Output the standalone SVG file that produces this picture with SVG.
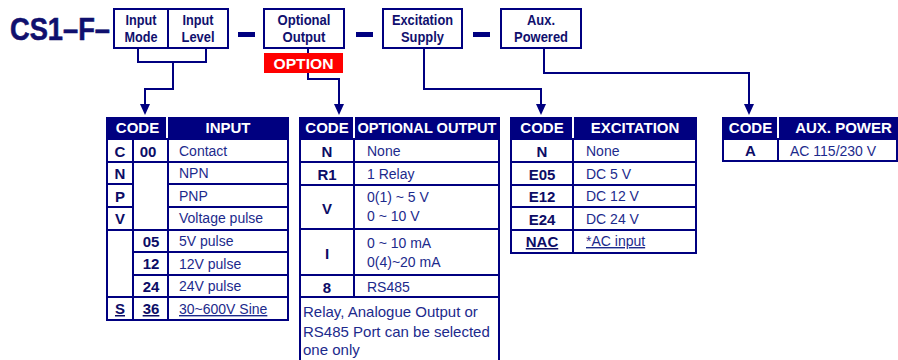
<svg xmlns="http://www.w3.org/2000/svg" width="898" height="360" viewBox="0 0 898 360">
<style>
.bx{fill:#fff;stroke:#000080;stroke-width:2}
.lbl{font-family:"Liberation Sans",Arial,sans-serif;font-weight:bold;font-size:14px;fill:#10106e;text-anchor:middle}
.hd{fill:#000080}
.hdt{font-family:"Liberation Sans",Arial,sans-serif;font-weight:bold;font-size:15px;fill:#fff;text-anchor:middle}
.hdv{stroke:#fff;stroke-width:2}
.tl{fill:none;stroke:#000080;stroke-width:2}
.cd{font-family:"Liberation Sans",Arial,sans-serif;font-weight:bold;font-size:15px;fill:#0c0c66;text-anchor:middle}
.ds{font-family:"Liberation Sans",Arial,sans-serif;font-size:14px;fill:#1c2a8c}
.nt{font-family:"Liberation Sans",Arial,sans-serif;font-size:15px;fill:#1c2a8c}
.u{text-decoration:underline}
.cn{fill:none;stroke:#000080;stroke-width:2}
.dash{fill:#000080}
</style>

<text id="title" x="10" y="40" font-family="'Liberation Sans',Arial,sans-serif" font-weight="bold" font-size="32" fill="#10106e" stroke="#10106e" stroke-width="0.6" textLength="100" lengthAdjust="spacingAndGlyphs">CS1–F–</text>

<g id="connectors">
<path class="cn" d="M138,48 V62 H206 V48"/>
<path class="cn" d="M173,62 V89 H145 V105"/>
<path class="cn" d="M308,48 V79 H339 V105"/>
<path class="cn" d="M424,48 V89 H541 V105"/>
<path class="cn" d="M544,48 V73 H749 V105"/>
<path d="M140,104 L150,104 L145,115 Z" fill="#000080"/>
<path d="M334,104 L344,104 L339,115 Z" fill="#000080"/>
<path d="M536,104 L546,104 L541,115 Z" fill="#000080"/>
<path d="M744,104 L754,104 L749,115 Z" fill="#000080"/>
</g>

<g id="dashes">
<rect class="dash" x="238" y="32" width="17" height="5"/>
<rect class="dash" x="356" y="32" width="17" height="5"/>
<rect class="dash" x="473" y="32" width="17" height="5"/>
</g>

<g id="box-input-mode">
<rect class="bx" x="114" y="9" width="54" height="39"/>
<text class="lbl" x="141" y="25" textLength="31" lengthAdjust="spacingAndGlyphs">Input</text>
<text class="lbl" x="141" y="42" textLength="33" lengthAdjust="spacingAndGlyphs">Mode</text>
</g>
<g id="box-input-level">
<rect class="bx" x="168" y="9" width="60" height="39"/>
<text class="lbl" x="198" y="25" textLength="31" lengthAdjust="spacingAndGlyphs">Input</text>
<text class="lbl" x="198" y="42" textLength="33" lengthAdjust="spacingAndGlyphs">Level</text>
</g>
<g id="box-optional-output">
<rect class="bx" x="264" y="9" width="80" height="39"/>
<text class="lbl" x="304" y="25" textLength="53" lengthAdjust="spacingAndGlyphs">Optional</text>
<text class="lbl" x="304" y="42" textLength="43" lengthAdjust="spacingAndGlyphs">Output</text>
</g>
<g id="option-tag">
<rect x="264" y="53" width="79" height="20" fill="#ff0000"/>
<text x="303.5" y="69" font-family="'Liberation Sans',Arial,sans-serif" font-weight="bold" font-size="15" fill="#fff" text-anchor="middle" textLength="60" lengthAdjust="spacingAndGlyphs">OPTION</text>
</g>
<g id="box-excitation">
<rect class="bx" x="383" y="9" width="79" height="39"/>
<text class="lbl" x="422.5" y="25" textLength="61" lengthAdjust="spacingAndGlyphs">Excitation</text>
<text class="lbl" x="422.5" y="42" textLength="43" lengthAdjust="spacingAndGlyphs">Supply</text>
</g>
<g id="box-aux">
<rect class="bx" x="501" y="9" width="80" height="39"/>
<text class="lbl" x="541" y="25" textLength="28" lengthAdjust="spacingAndGlyphs">Aux.</text>
<text class="lbl" x="541" y="42" textLength="54" lengthAdjust="spacingAndGlyphs">Powered</text>
</g>

<g id="table-input">
<rect class="hd" x="106" y="117" width="183" height="22"/>
<line class="hdv" x1="167" y1="117" x2="167" y2="139"/>
<text class="hdt" x="137.5" y="133">CODE</text>
<text class="hdt" x="228" y="133">INPUT</text>
<rect class="tl" x="107" y="139" width="181" height="181"/>
<line class="tl" x1="133" y1="139" x2="133" y2="320"/>
<line class="tl" x1="168" y1="139" x2="168" y2="320"/>
<line class="tl" x1="107" y1="162" x2="288" y2="162"/>
<line class="tl" x1="107" y1="184" x2="133" y2="184"/>
<line class="tl" x1="168" y1="184" x2="288" y2="184"/>
<line class="tl" x1="107" y1="207" x2="133" y2="207"/>
<line class="tl" x1="168" y1="207" x2="288" y2="207"/>
<line class="tl" x1="107" y1="230" x2="288" y2="230"/>
<line class="tl" x1="133" y1="252" x2="288" y2="252"/>
<line class="tl" x1="133" y1="275" x2="288" y2="275"/>
<line class="tl" x1="107" y1="297" x2="288" y2="297"/>
<text class="cd" x="120" y="157">C</text>
<text class="cd" x="148" y="157">00</text>
<text class="ds" x="179" y="156">Contact</text>
<text class="cd" x="120" y="179">N</text>
<text class="ds" x="179" y="178">NPN</text>
<text class="cd" x="120" y="202">P</text>
<text class="ds" x="179" y="201">PNP</text>
<text class="cd" x="120" y="224">V</text>
<text class="ds" x="179" y="223">Voltage pulse</text>
<text class="cd" x="151" y="247">05</text>
<text class="ds" x="179" y="246">5V pulse</text>
<text class="cd" x="151" y="269">12</text>
<text class="ds" x="179" y="269">12V pulse</text>
<text class="cd" x="151" y="292">24</text>
<text class="ds" x="179" y="291">24V pulse</text>
<text class="cd u" x="120" y="314">S</text>
<text class="cd u" x="151" y="314">36</text>
<text class="ds u" x="179" y="314">30~600V Sine</text>
</g>

<g id="table-optional-output">
<rect class="hd" x="299" y="117" width="201" height="22"/>
<line class="hdv" x1="354" y1="117" x2="354" y2="139"/>
<text class="hdt" x="327" y="133">CODE</text>
<text class="hdt" x="427" y="133" textLength="139" lengthAdjust="spacingAndGlyphs">OPTIONAL OUTPUT</text>
<path class="tl" d="M300,360 V139 H499 V360"/>
<line class="tl" x1="354" y1="139" x2="354" y2="297"/>
<line class="tl" x1="300" y1="162" x2="499" y2="162"/>
<line class="tl" x1="300" y1="185" x2="499" y2="185"/>
<line class="tl" x1="300" y1="229" x2="499" y2="229"/>
<line class="tl" x1="300" y1="275" x2="499" y2="275"/>
<line class="tl" x1="300" y1="297" x2="499" y2="297"/>
<text class="cd" x="327" y="157">N</text>
<text class="ds" x="367" y="156">None</text>
<text class="cd" x="327" y="180">R1</text>
<text class="ds" x="367" y="179">1 Relay</text>
<text class="cd" x="327" y="214">V</text>
<text class="ds" x="367" y="202">0(1) ~ 5 V</text>
<text class="ds" x="367" y="221">0 ~ 10 V</text>
<text class="cd" x="327" y="259">I</text>
<text class="ds" x="367" y="248">0 ~ 10 mA</text>
<text class="ds" x="367" y="267">0(4)~20 mA</text>
<text class="cd" x="327" y="293">8</text>
<text class="ds" x="367" y="292">RS485</text>
<text class="nt" x="303" y="317">Relay, Analogue Output or</text>
<text class="nt" x="303" y="337">RS485 Port can be selected</text>
<text class="nt" x="303" y="355">one only</text>
</g>

<g id="table-excitation">
<rect class="hd" x="510" y="117" width="187" height="22"/>
<line class="hdv" x1="573" y1="117" x2="573" y2="139"/>
<text class="hdt" x="542" y="133">CODE</text>
<text class="hdt" x="635" y="133">EXCITATION</text>
<rect class="tl" x="511" y="139" width="185" height="114"/>
<line class="tl" x1="573" y1="139" x2="573" y2="253"/>
<line class="tl" x1="511" y1="162" x2="696" y2="162"/>
<line class="tl" x1="511" y1="185" x2="696" y2="185"/>
<line class="tl" x1="511" y1="207" x2="696" y2="207"/>
<line class="tl" x1="511" y1="230" x2="696" y2="230"/>
<text class="cd" x="542" y="157">N</text>
<text class="ds" x="586" y="156">None</text>
<text class="cd" x="542" y="180">E05</text>
<text class="ds" x="586" y="179">DC 5 V</text>
<text class="cd" x="542" y="202">E12</text>
<text class="ds" x="586" y="201">DC 12 V</text>
<text class="cd" x="542" y="225">E24</text>
<text class="ds" x="586" y="224">DC 24 V</text>
<text class="cd u" x="542" y="247">NAC</text>
<text class="ds u" x="586" y="246">*AC input</text>
</g>

<g id="table-aux-power">
<rect class="hd" x="722" y="117" width="176" height="22"/>
<line class="hdv" x1="778" y1="117" x2="778" y2="139"/>
<text class="hdt" x="750.5" y="133">CODE</text>
<text class="hdt" x="843.5" y="133">AUX. POWER</text>
<rect class="tl" x="723" y="139" width="174" height="22"/>
<line class="tl" x1="778" y1="139" x2="778" y2="161"/>
<text class="cd" x="750.5" y="156">A</text>
<text class="ds" x="790" y="156">AC 115/230 V</text>
</g>
</svg>
